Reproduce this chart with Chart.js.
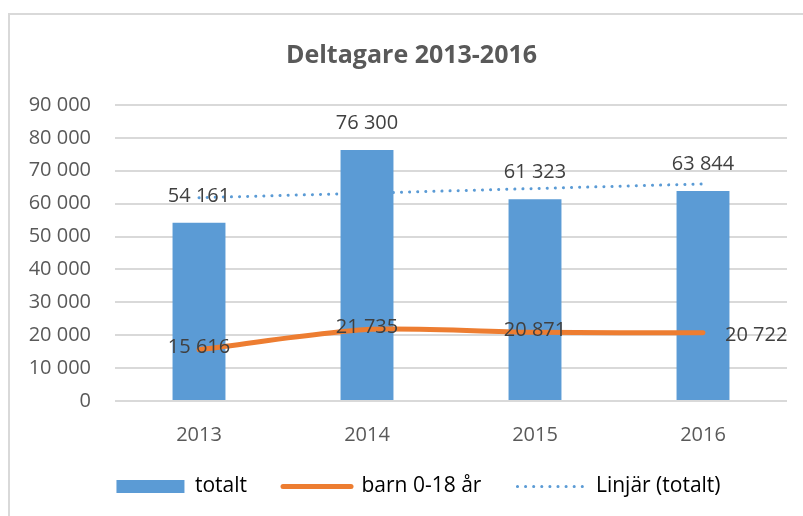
<!DOCTYPE html>
<html>
<head>
<meta charset="utf-8">
<script src="https://cdn.jsdelivr.net/npm/chart.js@4"></script>
<style>
  html, body { margin: 0; padding: 0; background: #fff; overflow: hidden; }
  #wrap { position: relative; width: 803px; height: 516px; }
  #frame { position: absolute; left: 8px; top: 13px; width: 900px; height: 600px; border: 2px solid #d9d9d9; }
  canvas { position: absolute; left: 0; top: 0; }
</style>
</head>
<body>
<div id="wrap">
  <div id="frame"></div>
  <canvas id="chart" width="803" height="516"></canvas>
</div>
<script>
const years = ["2013", "2014", "2015", "2016"];
const totalt = [54161, 76300, 61323, 63844];
const barn = [15616, 21735, 20871, 20722];
// trend line values
const linjar = [61800, 63200, 64600, 66000];

const fontFamily = "'Open Sans', sans-serif";

function fmt(v) {
    return String(v).replace(/\B(?=(\d{3})+(?!\d))/g, " ");
}

const labelPlugin = {
    id: "valueLabels",
    afterDatasetsDraw(chart) {
        const ctx = chart.ctx;
        ctx.save();
        ctx.font = "20px " + fontFamily;
        ctx.fillStyle = "#404040";
        ctx.textBaseline = "middle";

        chart.getDatasetMeta(1).data.forEach((bar, i) => {
            ctx.textAlign = "center";
            ctx.fillText(fmt(totalt[i]), bar.x, bar.y - 27);
        });

        chart.getDatasetMeta(2).data.forEach((pt, i) => {
            if (i === barn.length - 1) {
                ctx.textAlign = "left";
                ctx.fillText(fmt(barn[i]), pt.x + 22, pt.y + 2);
            } else {
                ctx.textAlign = "center";
                ctx.fillText(fmt(barn[i]), pt.x, pt.y - 2);
            }
        });
        ctx.restore();
    }
};

// nudge title and legend to where they sit in the original
const shiftPlugin = {
    id: "shiftBlocks",
    afterLayout(chart) {
        const t = chart.titleBlock;
        if (t) { t.left += 13; t.right += 13; }
        const lg = chart.legend;
        if (lg) {
            lg.left += 20; lg.right += 20;
            lg.top -= 21; lg.bottom -= 21;
        }
    }
};

const ctx = document.getElementById("chart").getContext("2d");
new Chart(ctx, {
    type: "bar",
    data: {
        labels: years,
        datasets: [
            {
                type: "line",
                label: "Linjär (totalt)",
                data: linjar,
                borderColor: "#5b9bd5",
                borderWidth: 3,
                borderDash: [0.1, 8],
                borderCapStyle: "round",
                pointRadius: 0,
                fill: false,
                order: 3
            },
            {
                type: "bar",
                label: "totalt",
                data: totalt,
                backgroundColor: "#5b9bd5",
                barPercentage: 0.63,
                categoryPercentage: 0.5,
                order: 2
            },
            {
                type: "line",
                label: "barn 0-18 år",
                data: barn,
                borderColor: "#ed7d31",
                borderWidth: 5,
                borderCapStyle: "round",
                borderJoinStyle: "round",
                tension: 0.25,
                pointRadius: 0,
                fill: false,
                order: 1
            }
        ]
    },
    options: {
        responsive: false,
        animation: false,
        layout: { padding: { left: 10, right: 16, top: 41, bottom: -12 } },
        plugins: {
            title: {
                display: true,
                text: "Deltagare 2013-2016",
                color: "#595959",
                font: { family: fontFamily, size: 25, weight: "bold" },
                padding: { top: 0, bottom: 34 }
            },
            legend: {
                position: "bottom",
                labels: {
                    color: "#595959",
                    font: { family: fontFamily, size: 21 },
                    usePointStyle: true,
                    pointStyleWidth: 68,
                    boxHeight: 13,
                    padding: 36,
                    generateLabels: () => [
                        { text: "totalt", fillStyle: "#5b9bd5", strokeStyle: "#5b9bd5", lineWidth: 0, pointStyle: "rect", datasetIndex: 1 },
                        { text: "barn 0-18 år", fillStyle: "#ed7d31", strokeStyle: "#ed7d31", lineWidth: 5, lineCap: "round", pointStyle: "line", datasetIndex: 2 },
                        { text: "Linjär (totalt)", fillStyle: "#5b9bd5", strokeStyle: "#5b9bd5", lineWidth: 3, lineCap: "round", lineDash: [0.1, 8], pointStyle: "line", datasetIndex: 0 }
                    ]
                }
            },
            tooltip: { enabled: false }
        },
        scales: {
            x: {
                grid: { display: false },
                border: { display: false },
                ticks: { color: "#595959", font: { family: fontFamily, size: 20 }, padding: 14 }
            },
            y: {
                min: 0,
                max: 90000,
                grid: { color: "#d9d9d9", lineWidth: 2, drawTicks: false },
                border: { display: false },
                ticks: {
                    stepSize: 10000,
                    color: "#595959",
                    font: { family: fontFamily, size: 20 },
                    padding: 24,
                    callback: v => fmt(v)
                },
                afterFit: scale => { scale.width = 105; }
            }
        }
    },
    plugins: [labelPlugin, shiftPlugin]
});
</script>
</body>
</html>
